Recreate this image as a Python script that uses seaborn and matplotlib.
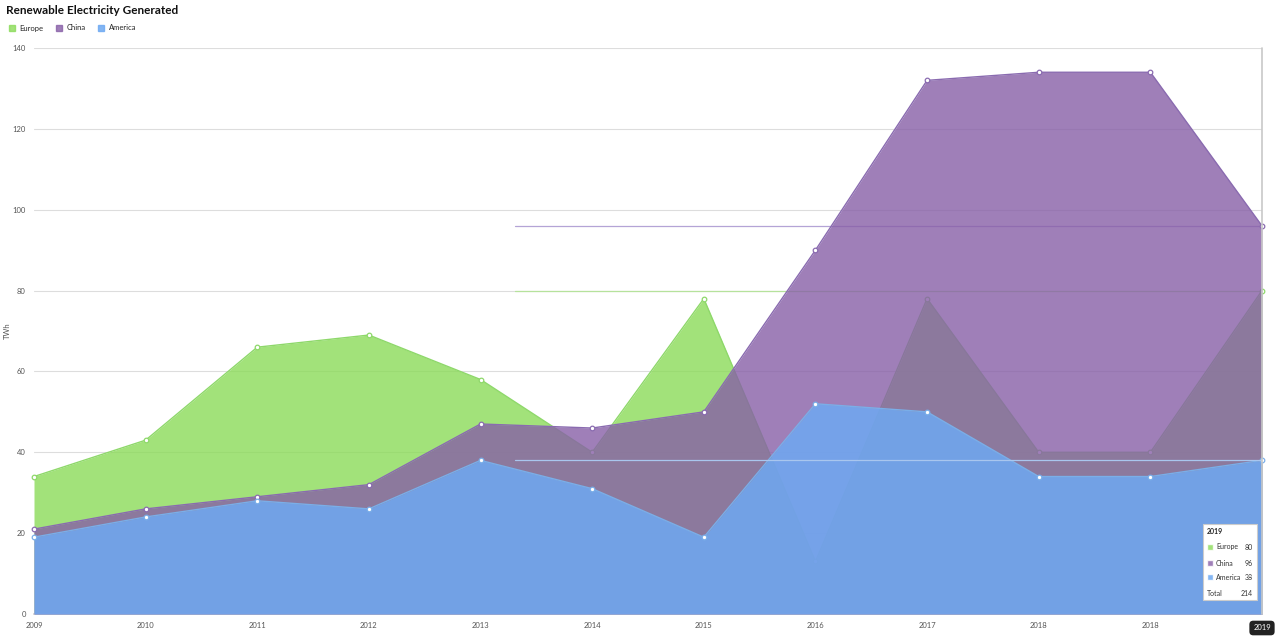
import numpy as np
import pandas as pd
import seaborn as sns
import matplotlib.pyplot as plt
from matplotlib.patches import Patch, FancyBboxPatch

# data
years = ['2009', '2010', '2011', '2012', '2013', '2014', '2015', '2016', '2017', '2018', '2018', '2019']
europe = [34, 43, 66, 69, 58, 40, 78, 13, 78, 40, 40, 80]
china = [21, 26, 29, 32, 47, 46, 50, 90, 132, 134, 134, 96]
america = [19, 24, 28, 26, 38, 31, 19, 52, 50, 34, 34, 38]
y_ticks = [0, 20, 40, 60, 80, 100, 120, 140]

df = pd.DataFrame({'idx': np.arange(len(years)), 'Europe': europe, 'China': china, 'America': america})

serier = [
    ('Europe', '#8bdb59', '#8ed86a', 0.8),
    ('China', '#875fa7', '#8a6bb0', 0.8),
    ('America', '#6ea9f2', '#7aaee8', 0.85),
]

sns.set_style('white')
plt.rcParams['font.family'] = ['Lato', 'DejaVu Sans']

fig = plt.figure(figsize=(12.8, 6.37), dpi=100)
ax = fig.add_axes([34 / 1280, 1 - 614 / 637, (1262 - 34) / 1280, (614 - 48) / 637])

z = 2
for navn, fyll, kant, a in serier:
    ax.fill_between(df['idx'], 0, df[navn], color=fyll, alpha=a, linewidth=0, zorder=z)
    sns.lineplot(x=df['idx'], y=df[navn], ax=ax, color=kant, linewidth=1, marker='o',
                 markersize=3.3, markerfacecolor='white', markeredgecolor=kant,
                 markeredgewidth=0.9, zorder=z + 0.5, clip_on=False)
    z += 1

# crosshair lines from the hover at 2019
frac = (515 - 34) / (1262 - 34)
ax.axhline(96, xmin=frac, xmax=1, color='#b4a4d6', linewidth=0.9, zorder=1.5)
ax.axhline(80, xmin=frac, xmax=1, color='#b6e29c', linewidth=0.9, zorder=1.5)
ax.axhline(38, xmin=frac, xmax=1, color='#a9c6ee', linewidth=0.9, zorder=10)
ax.axvline(11, color='#c8c8c8', linewidth=1.2, zorder=10, clip_on=False)

ax.set_xlim(0, 11)
ax.set_ylim(0, 140)
ax.set_xticks(df['idx'])
ax.set_xticklabels(years)
ax.set_yticks(y_ticks)
ax.tick_params(axis='both', labelsize=5.5, labelcolor='#555555', length=0, pad=6)
ax.grid(axis='y', color='#dddddd', linewidth=0.8, zorder=0)
ax.set_axisbelow(True)
for s in ['top', 'right', 'left']:
    ax.spines[s].set_visible(False)
ax.spines['bottom'].set_color('#cccccc')
ax.spines['bottom'].set_linewidth(1.2)
ax.set_xlabel('')
ax.set_ylabel('TWh', fontsize=5.5, color='#555555')
ax.yaxis.set_label_coords((11 - 34) / 1228, 0.5)

fig.text(6 / 1280, 1 - 10 / 637, 'Renewable Electricity Generated', fontsize=8.5,
         fontweight='bold', va='center', ha='left', color='#111111')

handles = [Patch(color=f, alpha=a, label=n) for n, f, k, a in serier]
fig.legend(handles=handles, loc='center left', bbox_to_anchor=(2 / 1280, 1 - 28 / 637), ncol=3,
           frameon=False, fontsize=5.5, handlelength=0.8, handleheight=0.8,
           handletextpad=0.6, columnspacing=1.6)

# tooltip box
bx0, by0, bw, bh = 1203, 524, 54, 76
fig.patches.append(FancyBboxPatch((bx0 / 1280, 1 - (by0 + bh) / 637), bw / 1280, bh / 637,
                                  boxstyle='square,pad=0', transform=fig.transFigure,
                                  facecolor='white', edgecolor='#cccccc', linewidth=0.8, zorder=20))
fig.text(1207 / 1280, 1 - 531 / 637, '2019', fontsize=5, fontweight='bold', va='center', zorder=21)
rader = [('Europe', 80, 547), ('China', 96, 563), ('America', 38, 577)]
for (navn, verdi, yy), (n, f, k, a) in zip(rader, serier):
    fig.patches.append(plt.Rectangle((1207 / 1280, 1 - (yy + 3) / 637), 6 / 1280, 6 / 637,
                                     transform=fig.transFigure, facecolor=f, alpha=a, zorder=21))
    fig.text(1216 / 1280, 1 - yy / 637, navn, fontsize=5, va='center', color='#333333', zorder=21)
    fig.text(1253 / 1280, 1 - yy / 637, str(verdi), fontsize=5, va='center', ha='right',
             color='#333333', zorder=21)
fig.text(1207 / 1280, 1 - 593 / 637, 'Total', fontsize=5, va='center', color='#333333', zorder=21)
fig.text(1253 / 1280, 1 - 593 / 637, str(europe[-1] + china[-1] + america[-1]), fontsize=5,
         va='center', ha='right', color='#333333', zorder=21)

# dark x label for hovered category
fig.text(1262 / 1280, 1 - 628 / 637, years[-1], fontsize=5.5, color='white', ha='center', va='center',
         zorder=22, bbox=dict(boxstyle='round,pad=0.5', facecolor='#222222', edgecolor='none'))

fig.savefig('out.png', dpi=100)
